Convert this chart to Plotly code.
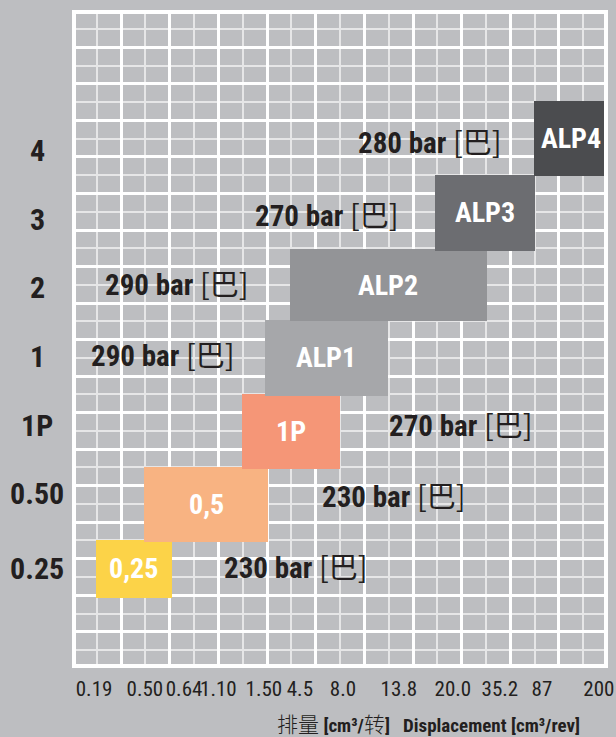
import plotly.graph_objects as go

# ---------------- data ----------------
series_names = ["0,25", "0,5", "1P", "ALP1", "ALP2", "ALP3", "ALP4"]
x_start = [0.97, 2.94, 6.97, 7.92, 8.94, 14.90, 18.97]
x_end = [4.08, 8.05, 10.99, 12.96, 17.03, 19.01, 22.05]
y_low = [3.87, 6.93, 10.93, 14.93, 19.00, 22.87, 26.98]
y_high = [7.03, 11.00, 15.02, 19.07, 22.96, 27.02, 31.07]

row_labels = ["0.25", "0.50", "1P", "1", "2", "3", "4"]
row_y = [5.49, 9.55, 13.32, 17.05, 20.88, 24.55, 28.38]

pressures = ["230 bar", "230 bar", "270 bar", "290 bar", "290 bar", "270 bar", "280 bar"]
pressure_x = [9.21, 13.20, 15.99, 3.72, 4.30, 10.48, 14.70]
pressure_y = [5.66, 9.55, 13.43, 17.27, 21.13, 24.93, 28.93]

x_tick_labels = ["0.19", "0.50", "0.64", "1.10", "1.50", "4.5", "8.0",
                 "13.8", "20.0", "35.2", "87", "200"]
x_tick_pos = [0.89, 2.98, 4.59, 6.00, 7.87, 9.35, 11.12, 13.42, 15.64, 17.57, 19.30, 21.64]

# ---------------- styles ----------------
bar_colors = ["#fcd348", "#f8b382", "#f59677", "#a6a7aa", "#939497", "#6c6d71", "#4b4c4f"]
BG = "#bdbec1"
TXT = "#231f20"
FONT = "Liberation Sans Narrow, Roboto Condensed, Arial Narrow, Liberation Sans, Arial, Noto Sans CJK SC, sans-serif"
CJK = "Noto Sans CJK SC"

fig = go.Figure()

bar_cy = [(lo + hi) / 2 for lo, hi in zip(y_low, y_high)]
bar_cx = [(s + e) / 2 for s, e in zip(x_start, x_end)]

fig.add_trace(go.Bar(
    orientation="h",
    base=x_start,
    x=[e - s for s, e in zip(x_start, x_end)],
    y=bar_cy,
    width=[hi - lo for lo, hi in zip(y_low, y_high)],
    marker=dict(color=bar_colors, line=dict(width=0)),
    hoverinfo="skip",
    showlegend=False,
))

# bar labels
for name, cx, cy in zip(series_names, bar_cx, bar_cy):
    fig.add_annotation(
        x=cx, y=cy, xref="x", yref="y", showarrow=False,
        text=f"<b>{name}</b>", font=dict(family=FONT, size=28, color="white"),
        xanchor="center", yanchor="middle",
    )

# invisible trace to carry the label axis
fig.add_trace(go.Scatter(x=[x_tick_pos[0]], y=[0.5], xaxis="x2", mode="markers",
                         marker=dict(opacity=0), hoverinfo="skip", showlegend=False))

# pressure annotations
for txt, px, py in zip(pressures, pressure_x, pressure_y):
    fig.add_annotation(
        x=px, y=py, xref="x", yref="y", showarrow=False,
        text=f"<b>{txt}</b> <span style='font-family:{CJK};font-weight:normal'>[巴]</span>",
        font=dict(family=FONT, size=29, color=TXT),
        xanchor="center", yanchor="middle",
    )

# row labels on the left
for lab, ry in zip(row_labels, row_y):
    fig.add_annotation(
        x=0, y=ry, xref="paper", yref="y", xshift=-39, showarrow=False,
        text=f"<b>{lab}</b>", font=dict(family=FONT, size=30, color=TXT),
        xanchor="center", yanchor="middle",
    )

# axis title
fig.add_annotation(
    x=0.958, y=0, xref="paper", yref="paper", yshift=-59, showarrow=False,
    xanchor="right", yanchor="middle",
    text=(f"<span style='font-family:{CJK};font-weight:300;font-size:21px'>排量</span> <b>[cm³/</b>"
          f"<span style='font-family:{CJK};font-weight:300;font-size:21px'>转</span><b>]</b>   "
          "<b>Displacement [cm³/rev]</b>"),
    font=dict(family=FONT, size=19, color=TXT),
)

fig.update_layout(
    width=616, height=737,
    margin=dict(l=76, r=12, t=14, b=73, autoexpand=False),
    paper_bgcolor=BG, plot_bgcolor=BG,
    bargap=0,
    xaxis=dict(
        range=[0.148, 21.85], dtick=2, tick0=0,
        showgrid=True, gridcolor="white", gridwidth=3,
        minor=dict(dtick=1, tick0=0, showgrid=True, gridcolor="#e6e6e7", gridwidth=1.6),
        showticklabels=False, ticks="", zeroline=False,
        showline=True, linecolor="white", linewidth=4, mirror=True,
        layer="below traces", automargin=False,
    ),
    xaxis2=dict(
        overlaying="x", matches="x", side="bottom",
        range=[0.148, 21.85],
        tickmode="array", tickvals=x_tick_pos, ticktext=x_tick_labels,
        tickangle=0, automargin=False,
        showgrid=False, zeroline=False, ticks="", showline=False,
        tickfont=dict(family=FONT, size=21, color=TXT),
        ticklabelstandoff=10,
    ),
    yaxis=dict(
        range=[0.235, 35.83], dtick=2, tick0=0,
        showgrid=True, gridcolor="white", gridwidth=3,
        minor=dict(dtick=1, tick0=0, showgrid=True, gridcolor="#e6e6e7", gridwidth=1.6),
        showticklabels=False, ticks="", zeroline=False,
        showline=True, linecolor="white", linewidth=4, mirror=True,
        layer="below traces", automargin=False,
    ),
)

fig.write_html(
    "out.html",
    config={"displayModeBar": False},
    post_script="document.body.style.margin='0';document.body.style.background='%s';" % BG,
)
